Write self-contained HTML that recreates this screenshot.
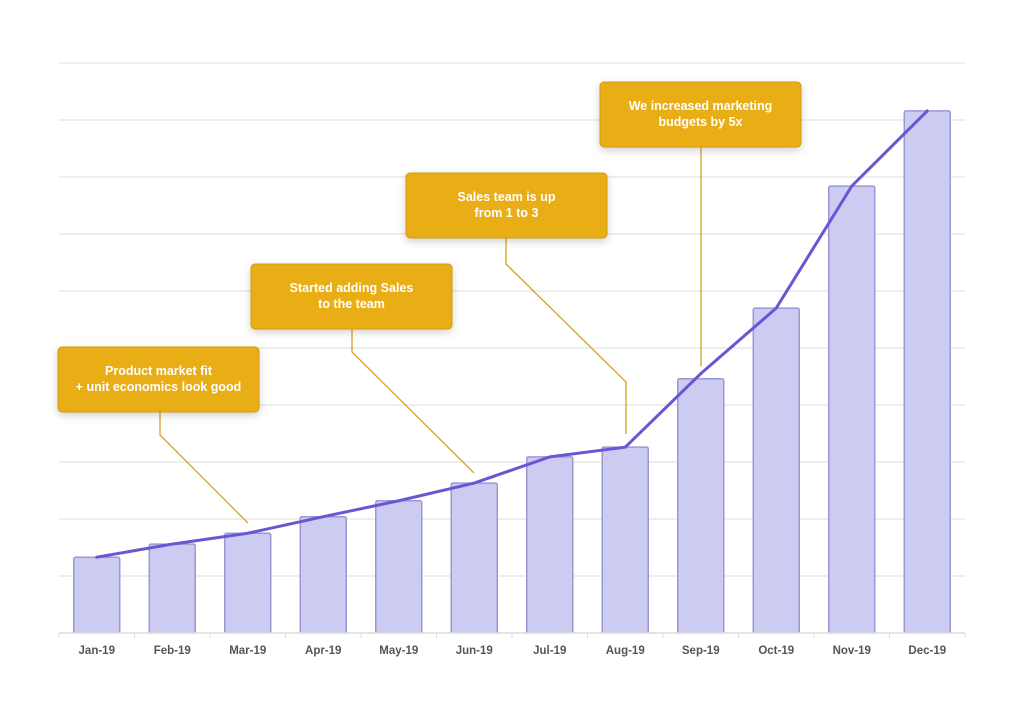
<!DOCTYPE html>
<html><head><meta charset="utf-8"><style>
html,body{margin:0;padding:0;background:#fff;}
svg{display:block;font-family:"Liberation Sans",sans-serif;}
</style></head><body>
<svg id="chart" width="1024" height="721" viewBox="0 0 1024 721" xmlns="http://www.w3.org/2000/svg">
<defs><filter id="sh" x="-20%" y="-30%" width="140%" height="170%"><feDropShadow dx="0" dy="3" stdDeviation="4" flood-color="#000" flood-opacity="0.18"/></filter></defs>
<g id="grid"></g>
<g id="bars"></g>
<g id="xaxis"></g>
<g id="leaders"></g>
<g id="line"></g>
<g id="notes"></g>
</svg>
<script>
const categories=["Jan-19","Feb-19","Mar-19","Apr-19","May-19","Jun-19","Jul-19","Aug-19","Sep-19","Oct-19","Nov-19","Dec-19"];
const barValues=[13.3,15.6,17.5,20.4,23.2,26.3,30.9,32.6,44.6,57.0,78.4,91.6];
const lineValues=[13.3,15.6,17.5,20.4,23.2,26.3,30.9,32.6,45.5,57.0,78.4,91.6];
const gridTicks=[0,10,20,30,40,50,60,70,80,90,100];
const NS="http://www.w3.org/2000/svg";
const X0=59,X1=965,Y0=633,Y1=63,MAX=100;
const bw=(X1-X0)/categories.length;
const xC=i=>X0+bw*(i+0.5);
const y=v=>Y0-(v/MAX)*(Y0-Y1);
function mk(t,a,p){const e=document.createElementNS(NS,t);for(const k in a)e.setAttribute(k,a[k]);p.appendChild(e);return e;}
const G=document.getElementById('grid');
gridTicks.forEach(t=>{if(t===0)return;const l=mk('line',{x1:X0,x2:X1,y1:y(t),y2:y(t),stroke:'#e3e3e3','stroke-width':1.2},G);

});
const B=document.getElementById('bars');
barValues.forEach((v,i)=>{const r=mk('path',{d:`M${xC(i)-23},${Y0} V${y(v)+2} Q${xC(i)-23},${y(v)} ${xC(i)-21},${y(v)} H${xC(i)+21} Q${xC(i)+23},${y(v)} ${xC(i)+23},${y(v)+2} V${Y0}`,fill:'#cccbf2',stroke:'#9c99d2','stroke-width':1.5},B);

});
const XA=document.getElementById('xaxis');
mk('line',{x1:X0,x2:X1,y1:Y0,y2:Y0,stroke:'#dcdcdc','stroke-width':1.5},XA);
for(let i=0;i<=categories.length;i++)mk('line',{x1:X0+bw*i,x2:X0+bw*i,y1:Y0,y2:Y0+5,stroke:'#dcdcdc'},XA);
categories.forEach((c,i)=>{const t=mk('text',{x:xC(i),y:654,'text-anchor':'middle','font-size':11.5,fill:'#555','font-weight':'bold'},XA);t.textContent=c;

});
const L=document.getElementById('line');
const pl=mk('polyline',{points:lineValues.map((v,i)=>xC(i)+','+y(v)).join(' '),fill:'none',stroke:'#6a55d4','stroke-width':3,'stroke-linejoin':'round','stroke-linecap':'round'},L);


const LD=document.getElementById('leaders');
[[[160,412],[160,435],[248,523]],[[352,329],[352,352],[474,473]],[[506,238],[506,264],[626,382],[626,434]],[[701,147],[701,366]]].forEach(p=>{
const l=mk('polyline',{points:p.map(q=>q.join(',')).join(' '),fill:'none',stroke:'#d6a224','stroke-width':1.3},LD);

});
const N=document.getElementById('notes');
[[58,347,"Product market fit","+ unit economics look good"],[251,264,"Started adding Sales","to the team"],[406,173,"Sales team is up","from 1 to 3"],[600,82,"We increased marketing","budgets by 5x"]].forEach(a=>{
const g=mk('g',{},N);


mk('rect',{x:a[0],y:a[1],width:201,height:65,rx:4,fill:'#e9ad18',stroke:'#d39a12','stroke-width':1,filter:'url(#sh)'},g);
[a[2],a[3]].forEach((s,k)=>{const t=mk('text',{x:a[0]+100.5,y:a[1]+28+k*16,'text-anchor':'middle','font-size':12.5,'font-weight':'bold',fill:'#fff'},g);t.textContent=s;});
});
</script>
</body></html>
